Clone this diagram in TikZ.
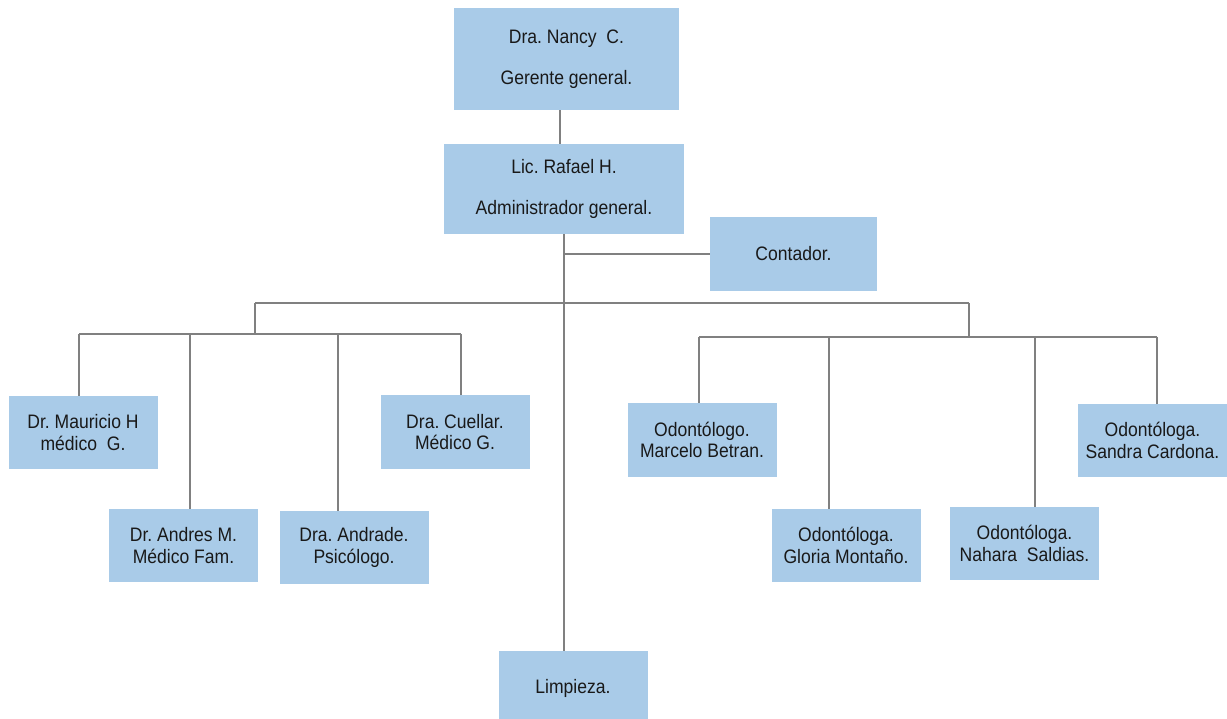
\documentclass[tikz,border=0pt]{standalone}
\usepackage{fontspec}
\setmainfont{Liberation Sans}[FakeStretch=0.9]
\frenchspacing
\definecolor{boxblue}{RGB}{169,203,232}
\definecolor{linegray}{RGB}{128,128,128}
\begin{document}
\begin{tikzpicture}[x=1pt,y=-1pt,
  box/.style={fill=boxblue,inner sep=0pt,align=center,minimum width=149pt,minimum height=73pt,
    font=\fontsize{19.5}{21.5}\selectfont,text=black!90},
  link/.style={draw=linegray,line width=2pt}]
  \useasboundingbox (0,0) rectangle (1227,719);
  \node[box,minimum width=225pt,minimum height=102pt] (nancy) at (566.5,59) {Dra. Nancy\ \ C.\\[20pt]Gerente general.};
  \node[box,minimum width=240pt,minimum height=90pt] (rafael) at (564,189) {Lic. Rafael H.\\[20pt]Administrador general.};
  \node[box,minimum width=167pt,minimum height=74pt] (contador) at (793.5,254) {Contador.};
  \node[box] (mauricio) at (83,432.5) {Dr. Mauricio H\\médico\ \ G.};
  \node[box] (cuellar) at (455,432) {Dra. Cuellar.\\Médico G.};
  \node[box] (andres) at (183.5,545.5) {Dr. Andres M.\\Médico Fam.};
  \node[box] (andrade) at (354,547.5) {Dra. Andrade.\\Psicólogo.};
  \node[box,minimum height=74pt] (limpieza) at (573,688) {Limpieza.};
  \node[box] (marcelo) at (702,440) {Odontólogo.\\Marcelo Betran.};
  \node[box] (gloria) at (846,545.5) {Odontóloga.\\Gloria Montaño.};
  \node[box] (nahara) at (1024.5,543.5) {Odontóloga.\\Nahara\ \ Saldias.};
  \node[box] (sandra) at (1152.5,440.5) {Odontóloga.\\Sandra Cardona.};
  \coordinate (ntop) at ([xshift=-6.5pt]nancy.south);
  \draw[link] (ntop) -- (ntop |- rafael.north);
  \draw[link] (rafael.south) -- (rafael.south |- limpieza.north);
  \draw[link] (rafael.south |- contador.west) -- (contador.west);
  \coordinate (lbar) at (255,303);
  \coordinate (rbar) at (969,303);
  \draw[link] (lbar) -- (rbar);
  \draw[link] (lbar) -- (255,334);
  \draw[link] (79,334) -- (461,334);
  \foreach \x/\n in {79/mauricio,190/andres,338/andrade,461/cuellar}
    \draw[link] (\x,334) -- (\x,334 |- \n.north);
  \draw[link] (rbar) -- (969,337);
  \draw[link] (699,337) -- (1157,337);
  \foreach \x/\n in {699/marcelo,829/gloria,1035/nahara,1157/sandra}
    \draw[link] (\x,337) -- (\x,337 |- \n.north);
\end{tikzpicture}
\end{document}
